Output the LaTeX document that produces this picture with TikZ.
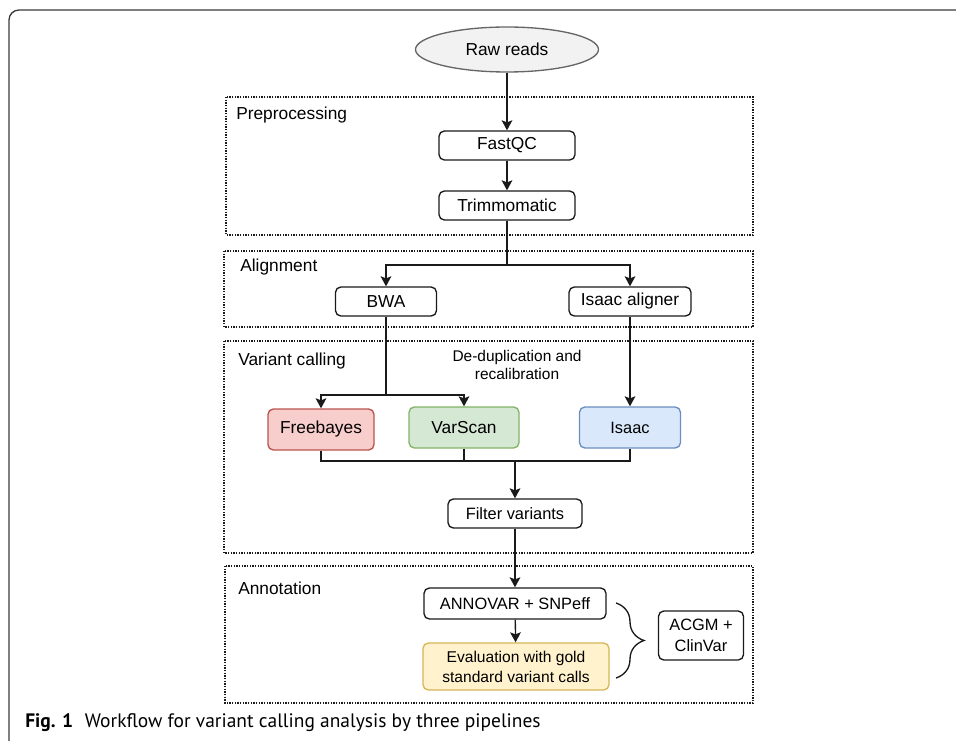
\documentclass[tikz,border=0pt]{standalone}
\usepackage{fontspec}
\setmainfont{Liberation Sans}
\newfontfamily\CapFont{PT Sans}
\usetikzlibrary{arrows.meta,positioning,calc,shapes.geometric,decorations.pathreplacing}
\definecolor{Ink}{HTML}{1A1A1A}
\definecolor{FrameInk}{HTML}{3A3A3A}
\definecolor{RawFill}{HTML}{F2F2F2}
\definecolor{RawLine}{HTML}{666666}
\definecolor{RedFill}{HTML}{F8CECC}
\definecolor{RedLine}{HTML}{B85450}
\definecolor{GreenFill}{HTML}{D5E8D4}
\definecolor{GreenLine}{HTML}{82B366}
\definecolor{BlueFill}{HTML}{DAE8FC}
\definecolor{BlueLine}{HTML}{6C8EBF}
\definecolor{GoldFill}{HTML}{FFF2CC}
\definecolor{GoldLine}{HTML}{D6B656}
\newcommand{\px}{0.75pt}
\newcommand{\StageBox}[8]{%
  \draw[stage] (#2,#3) rectangle (#4,#5);%
  \node[stagelabel] (#1) at (#7,#8) {#6};%
}
\newcommand{\ToolBox}[7][]{%
  \node[tool,minimum width=#5*\px,minimum height=#6*\px,#1] (#2) at (#3,#4) {#7};%
}

\begin{document}
\begin{tikzpicture}[x=0.75pt,y=-0.75pt,
  stage/.style={draw=Ink,line width=0.9pt,dash pattern=on 0.9pt off 1.1pt},
  stagelabel/.style={anchor=west,inner sep=0pt,font=\fontsize{13}{15}\selectfont},
  tool/.style={draw=Ink,fill=white,line width=1pt,rounded corners=4pt,inner sep=0pt,
    align=center,font=\fontsize{13}{15}\selectfont},
  small/.style={font=\fontsize{12.3}{15.7}\selectfont},
  flow/.style={draw=Ink,line width=1pt,-{Stealth[length=7.5pt,width=8pt,inset=1.5pt]}},
  link/.style={draw=Ink,line width=1pt}]
\useasboundingbox (0,0) rectangle (956,741);
% figure frame
\draw[FrameInk,line width=1pt,rounded corners=7.5pt] (9,741) -- (9,10) -- (956,10);
% stages
\StageBox{prelabel}{226}{97}{753}{235}{Preprocessing}{236}{115}
\StageBox{alnlabel}{224}{251}{753}{327}{Alignment}{240}{267}
\StageBox{calllabel}{224}{341}{753}{553}{Variant calling}{238}{361}
\StageBox{annlabel}{225}{566}{753}{703}{Annotation}{238}{588}
% tools
\node[ellipse,draw=RawLine,fill=RawFill,line width=1pt,inner sep=0pt,
  minimum width=183*\px,minimum height=45*\px,font=\fontsize{13}{15}\selectfont]
  (raw) at (507,49.5) {Raw reads};
\ToolBox{fastqc}{507}{145.5}{136}{29}{FastQC}
\ToolBox{trim}{507}{205.5}{136}{29}{Trimmomatic}
\ToolBox{bwa}{386}{301.5}{101}{29}{BWA}
\ToolBox{isaacaln}{630}{301.5}{122}{29}{Isaac aligner}
\ToolBox[fill=RedFill,draw=RedLine]{freebayes}{321}{429.5}{106}{41}{Freebayes}
\ToolBox[fill=GreenFill,draw=GreenLine]{varscan}{464}{427.5}{110}{41}{VarScan}
\ToolBox[fill=BlueFill,draw=BlueLine,small]{isaac}{630}{427.5}{101}{41}{Isaac}
\ToolBox[small]{filter}{515}{513.5}{134}{29}{Filter variants}
\ToolBox[small]{annovar}{515}{603.5}{182}{31}{ANNOVAR + SNPeff}
\ToolBox[fill=GoldFill,draw=GoldLine,font=\fontsize{11.7}{15}\selectfont]{eval}{516}{666.5}{186}{47}{Evaluation with gold\\standard variant calls}
\ToolBox[small]{acgm}{701}{635.5}{85}{49}{ACGM +\\ClinVar}
\node[align=center,inner sep=0pt,font=\fontsize{11.6}{13.5}\selectfont]
  (dedup) at (517,365) {De-duplication and\\recalibration};
% junctions
\coordinate (alnsplit) at (507,265);
\coordinate (callsplit) at (386,395);
\coordinate (merge) at (515,461);
% connectors
\draw[flow] (raw) -- (fastqc);
\draw[flow] (fastqc) -- (trim);
\draw[link] (trim) -- (alnsplit);
\draw[flow] (alnsplit) -| (bwa);
\draw[flow] (alnsplit) -| (isaacaln);
\draw[link] (bwa) -- (callsplit);
\draw[flow] (callsplit) -| (freebayes);
\draw[flow] (callsplit) -| (varscan);
\draw[flow] (isaacaln) -- (isaac);
\draw[link] (freebayes.south) |- (merge) -| (isaac.south);
\draw[link] (varscan.south) -- (varscan.south |- merge);
\draw[flow] (merge) -- (filter);
\draw[flow] (filter) -- (annovar);
\draw[flow] (annovar) -- (eval);
\draw[link,decorate,decoration={brace,amplitude=21pt}] (616,603) -- (616,678);
% caption
\node[anchor=west,inner sep=0pt,font=\CapFont\fontsize{14.6}{17}\selectfont]
  (caption) at (25,723) {\textbf{Fig. 1}\hspace{0.6em}Workflow for variant calling analysis by three pipelines};
\end{tikzpicture}
\end{document}
